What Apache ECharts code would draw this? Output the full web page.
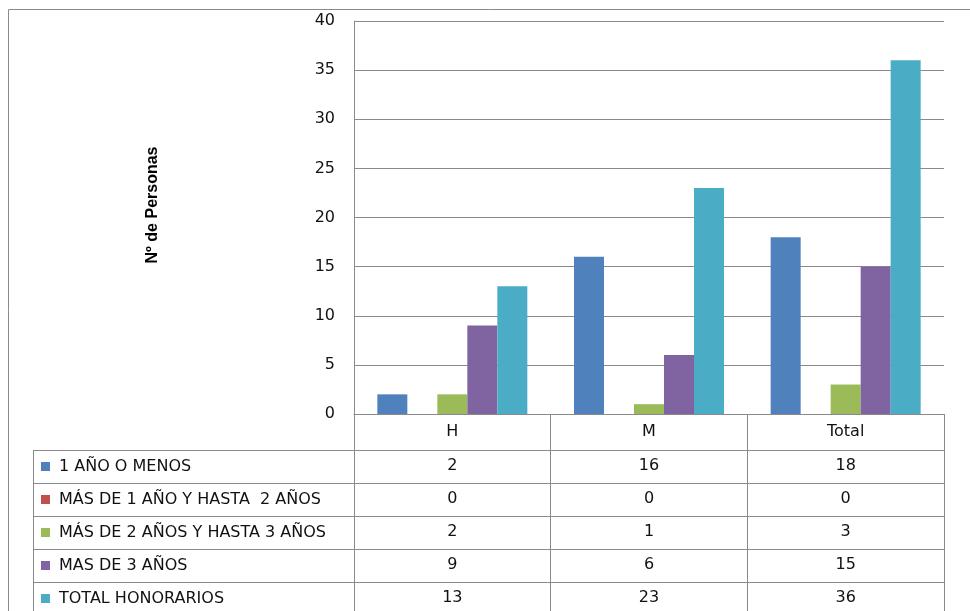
<!DOCTYPE html>
<html>
<head>
<meta charset="utf-8">
<script src="https://cdn.jsdelivr.net/npm/echarts@6/dist/echarts.min.js"></script>
<style>
html,body{margin:0;padding:0;background:#fff;}
#chart{width:970px;height:611px;}
</style>
</head>
<body>
<div id="chart"></div>
<script>
// ---- data ----
const categories = ['H', 'M', 'Total'];
const seriesNames = [
  '1 AÑO O MENOS',
  'MÁS DE 1 AÑO Y HASTA  2 AÑOS',
  'MÁS DE 2 AÑOS Y HASTA 3 AÑOS',
  'MAS DE 3 AÑOS',
  'TOTAL HONORARIOS'
];
const unAnoOMenos = [2, 16, 18];
const de1a2 = [0, 0, 0];
const de2a3 = [2, 1, 3];
const masDe3 = [9, 6, 15];
const totalHonorarios = [13, 23, 36];
const seriesValues = [unAnoOMenos, de1a2, de2a3, masDe3, totalHonorarios];
const colors = ['#4F81BD', '#C0504D', '#9BBB59', '#8064A2', '#4BACC6'];
const yMin = 0, yMax = 40, yInterval = 5;
const yTitle = 'Nº de Personas';

// ---- layout ----
const gridLeft = 354, gridTop = 21, gridRight = 944, gridBottom = 414;
const headerH = 36, rowH = 33;
const tableLeft = 33;
const lineColor = '#8a8a8a';
const font = 'DejaVu Sans';
const fs = 16;

const chart = echarts.init(document.getElementById('chart'));

const xAxes = [{
  type: 'category', data: categories, gridIndex: 0, position: 'bottom', offset: 0,
  axisLine: { show: true, lineStyle: { color: lineColor, width: 1 } },
  axisTick: { show: true, length: headerH, interval: 0, lineStyle: { color: lineColor } },
  axisLabel: { margin: 10, fontFamily: font, fontSize: fs, color: '#111', interval: 0 },
  splitLine: { show: false }
}];
seriesValues.forEach((vals, k) => {
  xAxes.push({
    type: 'category', data: categories, gridIndex: 0, position: 'bottom',
    offset: headerH + rowH * k,
    axisLine: { show: true, lineStyle: { color: lineColor, width: 1 } },
    axisTick: { show: true, length: rowH, interval: 0, lineStyle: { color: lineColor } },
    axisLabel: { margin: 8, fontFamily: font, fontSize: fs, color: '#111', interval: 0,
      formatter: (v, i) => String(vals[i]) },
    splitLine: { show: false }
  });
});

const graphics = [
  { type: 'rect', shape: { x: 8.5, y: 9.5, width: 1000, height: 1000 },
    style: { fill: 'none', stroke: lineColor, lineWidth: 1 }, silent: true },
  { type: 'line', shape: { x1: tableLeft + 0.5, y1: gridBottom + headerH, x2: tableLeft + 0.5, y2: 640 },
    style: { stroke: lineColor, lineWidth: 1 }, silent: true },
  { type: 'text', x: 153, y: 205, rotation: Math.PI / 2,
    style: { text: yTitle, font: 'bold 16px "Liberation Sans", Arial, sans-serif',
      fill: '#000', align: 'center', verticalAlign: 'middle' } }
];
for (let k = 0; k < seriesValues.length; k++) {
  const y = gridBottom + headerH + rowH * k + 0.5;
  graphics.push({ type: 'line', shape: { x1: tableLeft, y1: y, x2: gridLeft, y2: y },
    style: { stroke: lineColor, lineWidth: 1 }, silent: true });
}

const option = {
  animation: false,
  color: colors,
  grid: { left: gridLeft, top: gridTop, width: gridRight - gridLeft, height: gridBottom - gridTop, containLabel: false },
  legend: {
    data: seriesNames, orient: 'vertical', left: 41,
    top: gridBottom + headerH + rowH / 2 - 8, padding: 0,
    itemWidth: 9, itemHeight: 9, itemGap: rowH - 16, icon: 'rect', selectedMode: false,
    textStyle: { fontFamily: font, fontSize: fs, color: '#111', lineHeight: 16, padding: [0, 0, 0, 4] }
  },
  xAxis: xAxes,
  yAxis: {
    type: 'value', min: yMin, max: yMax, interval: yInterval,
    axisLine: { show: true, lineStyle: { color: lineColor } },
    axisTick: { show: false },
    axisLabel: { margin: 19, fontFamily: font, fontSize: fs, color: '#111' },
    splitLine: { show: true, lineStyle: { color: lineColor, width: 1 } }
  },
  series: seriesNames.map((name, i) => ({
    name, type: 'bar', xAxisIndex: 0, data: seriesValues[i],
    barWidth: 30, barGap: '0%', itemStyle: { color: colors[i] }
  })),
  graphic: graphics
};
chart.setOption(option);
</script>
</body>
</html>
